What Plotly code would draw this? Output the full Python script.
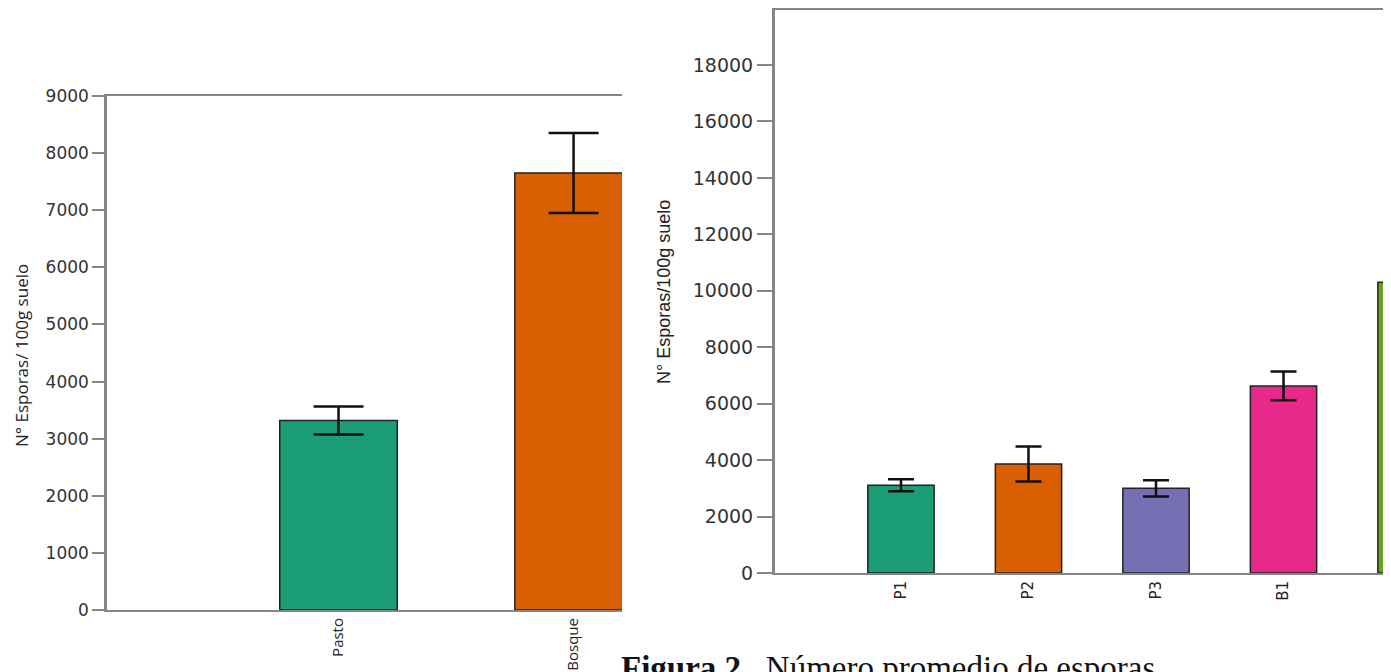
import plotly.graph_objects as go

# The page places the figure 8 px from the window's top-left corner,
# so the figure is sized to fill the rest of the 1391x672 window.
OFF = 8
W, H = 1391 - OFF, 672 - OFF

# Left panel data
left_cats = ["Pasto", "Bosque"]
left_vals = [3320, 7650]
left_err = [245, 700]

# Right panel data
right_cats = ["P1", "P2", "P3", "B1", "B2"]
right_vals = [3110, 3860, 3000, 6630, 10300]
right_err = [210, 620, 285, 510, 900]

left_ticks = [0, 1000, 2000, 3000, 4000, 5000, 6000, 7000, 8000, 9000]
right_ticks = [0, 2000, 4000, 6000, 8000, 10000, 12000, 14000, 16000, 18000]

left_colors = ["#1b9e77", "#d95f02"]
right_colors = ["#1b9e77", "#d95f02", "#7570b3", "#e7298a", "#66a61e"]

caption = "<b>Figura 2.</b>\u00a0\u00a0Número promedio de esporas"

def px(x):
    # screen x (window pixels) -> paper fraction
    return (x - OFF) / W

def py(y):
    # screen y (window pixels, from top) -> paper fraction
    return 1 - (y - OFF) / H

fig = go.Figure()

fig.add_trace(go.Bar(
    x=left_cats, y=left_vals, width=0.5,
    marker=dict(color=left_colors, line=dict(color="#222222", width=1.5)),
    error_y=dict(type="data", array=left_err, color="#111111", thickness=2.5, width=25),
    xaxis="x", yaxis="y", showlegend=False,
))

fig.add_trace(go.Bar(
    x=right_cats, y=right_vals, width=0.52,
    marker=dict(color=right_colors, line=dict(color="#222222", width=1.5)),
    error_y=dict(type="data", array=right_err, color="#111111", thickness=2.5, width=13),
    xaxis="x2", yaxis="y2", showlegend=False,
))

axis_grey = "#858585"
tick_font_l = dict(family="DejaVu Sans", size=17, color="#333333")
tick_font_r = dict(family="DejaVu Sans", size=19, color="#333333")
xlab_font = dict(family="Open Sans", size=15, color="#222222")

fig.update_layout(
    template="none",
    width=W, height=H,
    margin=dict(l=0, r=0, t=0, b=0, autoexpand=False),
    paper_bgcolor="white", plot_bgcolor="white",
    xaxis=dict(
        domain=[px(107), px(622)], anchor="y", type="category", automargin=False,
        range=[-0.985, 1.206], showline=True, mirror=True,
        linecolor=axis_grey, linewidth=2, showgrid=False, zeroline=False,
        ticks="", tickangle=-90, tickfont=xlab_font,
    ),
    yaxis=dict(
        domain=[py(610), py(96)], anchor="x", range=[0, 9000], automargin=False,
        tickvals=left_ticks, tickformat="d",
        showline=True, linecolor=axis_grey, linewidth=2.5,
        showgrid=False, zeroline=False, ticks="outside", ticklen=12,
        tickwidth=1.5, tickcolor=axis_grey, tickfont=tick_font_l,
    ),
    xaxis2=dict(
        domain=[px(775), 1.0], anchor="y2", type="category", automargin=False,
        range=[-0.988, 3.843], showline=True, mirror=True,
        linecolor=axis_grey, linewidth=2, showgrid=False, zeroline=False,
        ticks="", tickangle=-90, tickfont=dict(family="DejaVu Sans", size=15, color="#222222"),
    ),
    yaxis2=dict(
        domain=[py(573), py(10)], anchor="x2", range=[0, 19950], automargin=False,
        tickvals=right_ticks, tickformat="d",
        showline=True, linecolor=axis_grey, linewidth=3,
        showgrid=False, zeroline=False, ticks="outside", ticklen=15,
        tickwidth=1.5, tickcolor=axis_grey, tickfont=tick_font_r,
    ),
    annotations=[
        dict(text="N° Esporas/ 100g suelo", x=px(21), y=py(356), xref="paper", yref="paper",
             showarrow=False, textangle=-90, xanchor="center", yanchor="middle",
             font=dict(family="Open Sans", size=17, color="#222222")),
        dict(text="N° Esporas/100g suelo", x=px(664), y=py(292), xref="paper", yref="paper",
             showarrow=False, textangle=-90, xanchor="center", yanchor="middle",
             font=dict(family="Liberation Sans", size=18, color="#222222")),
        dict(text=caption, x=px(619), y=py(648), xref="paper", yref="paper",
             showarrow=False, xanchor="left", yanchor="top",
             font=dict(family="Liberation Serif", size=33, color="#111111")),
    ],
)

fig.write_html("out.html")
